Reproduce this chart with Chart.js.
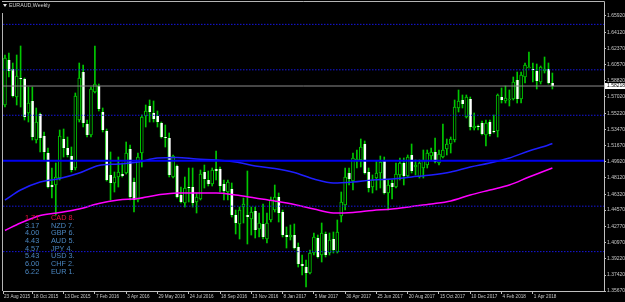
<!DOCTYPE html>
<html>
<head>
<meta charset="utf-8">
<title>EURAUD,Weekly</title>
<script src="https://cdn.jsdelivr.net/npm/chart.js@4.4.1/dist/chart.umd.min.js"></script>
<style>
  html, body { margin: 0; padding: 0; background: #000; }
  canvas { display: block; }
</style>
</head>
<body>
<canvas id="chart" width="625" height="302"></canvas>
<script>
// weekly candles, first one is the week of 30 Aug 2015 (week index 1)
const firstWeek = 1;

const openPrices = [
  1.5613, 1.6108, 1.6009, 1.5701, 1.5910, 1.5899, 1.5525, 1.5657, 1.5228, 1.5514,
  1.5272, 1.5085, 1.4733, 1.4733, 1.4810, 1.5239, 1.5140, 1.5052, 1.4920, 1.5448,
  1.5976, 1.5404, 1.5283, 1.5756, 1.5822, 1.5536, 1.5327, 1.4843, 1.4755, 1.4821,
  1.4854, 1.4865, 1.5129, 1.4766, 1.4568, 1.5085, 1.5492, 1.5602, 1.5525, 1.5492,
  1.5415, 1.5261, 1.5250, 1.4821, 1.4942, 1.4623, 1.4535, 1.4711, 1.4711, 1.4546,
  1.4579, 1.4876, 1.4788, 1.4744, 1.4909, 1.4909, 1.4744, 1.4656, 1.4689, 1.4403,
  1.4304, 1.4491, 1.4403, 1.4359, 1.4447, 1.4249, 1.4304, 1.4139, 1.4348, 1.4458,
  1.4601, 1.4436, 1.4183, 1.4161, 1.4183, 1.4051, 1.3864, 1.3831, 1.3765, 1.3985,
  1.4150, 1.3963, 1.4194, 1.3985, 1.4139, 1.3996, 1.4392, 1.4513, 1.4865, 1.4777,
  1.4997, 1.5008, 1.5184, 1.4876, 1.4711, 1.4810, 1.4865, 1.4997, 1.4645, 1.4755,
  1.4711, 1.4843, 1.4975, 1.4832, 1.5063, 1.4931, 1.4821, 1.4920, 1.4953, 1.5052,
  1.5096, 1.4975, 1.5041, 1.5129, 1.5184, 1.5228, 1.5580, 1.5668, 1.5481, 1.5679,
  1.5360, 1.5382, 1.5415, 1.5283, 1.5426, 1.5327, 1.5327, 1.5701, 1.5657, 1.5668,
  1.5679, 1.5888, 1.5679, 1.5921, 1.6020, 1.6009, 1.5987, 1.5866, 1.5987, 1.6009,
  1.5855
];
const highPrices = [
  1.6163, 1.6185, 1.6075, 1.6163, 1.6262, 1.5910, 1.5811, 1.5811, 1.5580, 1.5525,
  1.5316, 1.5140, 1.4920, 1.4975, 1.5338, 1.5349, 1.5261, 1.5151, 1.5745, 1.6075,
  1.6053, 1.5448, 1.5811, 1.6262, 1.5844, 1.5580, 1.5349, 1.5096, 1.4876, 1.5041,
  1.4975, 1.5206, 1.5173, 1.4810, 1.5085, 1.5503, 1.5613, 1.5668, 1.5657, 1.5547,
  1.5426, 1.5393, 1.5305, 1.5063, 1.4953, 1.4711, 1.4821, 1.4920, 1.4920, 1.4645,
  1.4898, 1.4953, 1.4887, 1.4920, 1.5107, 1.4931, 1.4788, 1.4788, 1.4755, 1.4458,
  1.4491, 1.4590, 1.4887, 1.4491, 1.4491, 1.4425, 1.4524, 1.4425, 1.4601, 1.4733,
  1.4645, 1.4458, 1.4271, 1.4293, 1.4304, 1.4095, 1.3963, 1.3908, 1.4018, 1.4205,
  1.4183, 1.4315, 1.4216, 1.4205, 1.4216, 1.4348, 1.4656, 1.4920, 1.4920, 1.5085,
  1.5118, 1.5239, 1.5217, 1.4920, 1.4843, 1.4997, 1.5052, 1.5041, 1.4788, 1.4788,
  1.4975, 1.5030, 1.5030, 1.5063, 1.5184, 1.5008, 1.5008, 1.5118, 1.5118, 1.5140,
  1.5250, 1.5118, 1.5404, 1.5239, 1.5261, 1.5668, 1.5778, 1.5723, 1.5723, 1.5701,
  1.5525, 1.5393, 1.5437, 1.5448, 1.5448, 1.5503, 1.5734, 1.5800, 1.5822, 1.5778,
  1.5921, 1.5976, 1.5976, 1.6075, 1.6196, 1.6075, 1.6064, 1.6042, 1.6141, 1.6075,
  1.5965
];
const lowPrices = [
  1.5591, 1.5921, 1.5701, 1.5613, 1.5591, 1.5448, 1.5426, 1.5228, 1.5195, 1.5096,
  1.5008, 1.4700, 1.4590, 1.4403, 1.4788, 1.5041, 1.5041, 1.4876, 1.4898, 1.5426,
  1.5371, 1.5261, 1.5261, 1.5745, 1.5547, 1.5316, 1.4777, 1.4568, 1.4656, 1.4711,
  1.4821, 1.4854, 1.4568, 1.4436, 1.4546, 1.4931, 1.5371, 1.5426, 1.5426, 1.5371,
  1.5250, 1.5151, 1.4821, 1.4810, 1.4590, 1.4535, 1.4491, 1.4546, 1.4491, 1.4425,
  1.4568, 1.4700, 1.4722, 1.4722, 1.4788, 1.4656, 1.4568, 1.4568, 1.4381, 1.4194,
  1.4139, 1.4315, 1.4084, 1.4183, 1.4150, 1.4161, 1.4139, 1.4095, 1.4326, 1.4436,
  1.4326, 1.4161, 1.4040, 1.4128, 1.4029, 1.3831, 1.3743, 1.3611, 1.3754, 1.3963,
  1.3930, 1.3886, 1.3941, 1.3963, 1.3985, 1.3985, 1.4326, 1.4458, 1.4733, 1.4678,
  1.4920, 1.4931, 1.4854, 1.4656, 1.4645, 1.4678, 1.4700, 1.4634, 1.4458, 1.4579,
  1.4700, 1.4788, 1.4733, 1.4821, 1.4865, 1.4843, 1.4810, 1.4810, 1.4920, 1.5008,
  1.4975, 1.4953, 1.5030, 1.5063, 1.5085, 1.5206, 1.5536, 1.5580, 1.5470, 1.5338,
  1.5338, 1.5338, 1.5283, 1.5162, 1.5272, 1.5305, 1.5261, 1.5635, 1.5635, 1.5602,
  1.5668, 1.5635, 1.5635, 1.5855, 1.6020, 1.5866, 1.5789, 1.5844, 1.5965, 1.5844,
  1.5789
];
const closePrices = [
  1.6130, 1.5987, 1.5712, 1.5932, 1.5899, 1.5481, 1.5635, 1.5261, 1.5426, 1.5250,
  1.5096, 1.4711, 1.4711, 1.4821, 1.5272, 1.5140, 1.5063, 1.4898, 1.5712, 1.5910,
  1.5415, 1.5283, 1.5789, 1.5844, 1.5569, 1.5338, 1.4788, 1.4755, 1.4821, 1.4876,
  1.4832, 1.5085, 1.4601, 1.4568, 1.5041, 1.5481, 1.5547, 1.5536, 1.5459, 1.5426,
  1.5261, 1.5250, 1.4843, 1.5052, 1.4601, 1.4546, 1.4700, 1.4700, 1.4535, 1.4601,
  1.4854, 1.4799, 1.4744, 1.4898, 1.4887, 1.4722, 1.4667, 1.4766, 1.4403, 1.4315,
  1.4458, 1.4524, 1.4381, 1.4436, 1.4238, 1.4315, 1.4161, 1.4315, 1.4568, 1.4601,
  1.4425, 1.4183, 1.4161, 1.4183, 1.4040, 1.3864, 1.3842, 1.3765, 1.3985, 1.4161,
  1.3941, 1.4205, 1.3963, 1.4128, 1.4018, 1.4216, 1.4546, 1.4821, 1.4799, 1.5030,
  1.5019, 1.5151, 1.4865, 1.4700, 1.4788, 1.4865, 1.4986, 1.4645, 1.4733, 1.4711,
  1.4854, 1.4975, 1.4832, 1.5041, 1.4887, 1.4953, 1.4975, 1.5008, 1.5085, 1.5096,
  1.4986, 1.5074, 1.5118, 1.5184, 1.5239, 1.5591, 1.5657, 1.5624, 1.5701, 1.5371,
  1.5382, 1.5371, 1.5294, 1.5415, 1.5294, 1.5316, 1.5723, 1.5668, 1.5690, 1.5679,
  1.5866, 1.5679, 1.5943, 1.6053, 1.6031, 1.5998, 1.5877, 1.6031, 1.6009, 1.5855,
  1.58218
];

// moving averages every 5 weeks
const maWeeks = [1, 5, 10, 15, 20, 25, 30, 35, 40, 45, 50, 55, 60, 65, 70, 75, 80,
  85, 90, 95, 100, 105, 110, 115, 120, 125, 130, 135, 140, 141];
const blueMa = [1.4568, 1.4678, 1.4766, 1.4805, 1.4865, 1.4948, 1.4964, 1.4986, 1.5030, 1.5036,
  1.5019, 1.5008, 1.4986, 1.4942, 1.4915, 1.4871, 1.4799, 1.4755, 1.4766, 1.4788,
  1.4799, 1.4821, 1.4843, 1.4876, 1.4931, 1.4975, 1.5030, 1.5107, 1.5173, 1.5190];
const magentaMa = [1.4233, 1.4315, 1.4398, 1.4431, 1.4469, 1.4530, 1.4568, 1.4585, 1.4623, 1.4645,
  1.4645, 1.4645, 1.4623, 1.4590, 1.4557, 1.4519, 1.4469, 1.4425, 1.4431, 1.4453,
  1.4469, 1.4497, 1.4524, 1.4557, 1.4623, 1.4678, 1.4733, 1.4821, 1.4904, 1.4920];

// horizontal levels
const dottedLevels = [1.65, 1.60, 1.55, 1.45, 1.40];
const solidLevel = 1.50;

// axis labels
const dateLabels = ['23 Aug 2015', '18 Oct 2015', '13 Dec 2015', '7 Feb 2016', '3 Apr 2016',
  '29 May 2016', '24 Jul 2016', '18 Sep 2016', '13 Nov 2016', '8 Jan 2017', '5 Mar 2017',
  '30 Apr 2017', '25 Jun 2017', '20 Aug 2017', '15 Oct 2017', '10 Dec 2017', '4 Feb 2018', '1 Apr 2018'];
const weeksPerDateLabel = 8;
const priceTicks = [1.65920, 1.64120, 1.62370, 1.60570, 1.58820, 1.57020, 1.55220, 1.53470, 1.51670,
  1.49920, 1.48120, 1.46320, 1.44570, 1.42770, 1.40970, 1.39220, 1.37420, 1.35670];

// currency strength panel
const strengthValues = ['1.71', '3.17', '4.00', '4.43', '4.57', '5.43', '6.00', '6.22'];
const strengthNames = ['CAD 8.', 'NZD 7.', 'GBP 6.', 'AUD 5.', 'JPY 4.', 'USD 3.', 'CHF 2.', 'EUR 1.'];

const X_MIN = 0.5, X_MAX = 154.2;
const Y_MIN = 1.3567, Y_MAX = 1.6735;
const GREEN = '#00c800';
const AXIS = '#c0c0c0';
const FONT = 'Liberation Sans, Arial, sans-serif';

const weeks = openPrices.map((_, k) => firstWeek + k);
const lastClose = closePrices[closePrices.length - 1];

function levelLine(value, color, width, dash, order) {
  return {
    type: 'line',
    data: [{ x: X_MIN, y: value }, { x: X_MAX, y: value }],
    borderColor: color,
    borderWidth: width,
    borderDash: dash,
    pointRadius: 0,
    order: order
  };
}

const datasets = [
  {
    type: 'bar',
    label: 'wicks',
    data: weeks.map((w, k) => ({ x: w, y: [lowPrices[k], highPrices[k]] })),
    backgroundColor: GREEN,
    barThickness: 1,
    grouped: false,
    order: 10
  },
  {
    type: 'bar',
    label: 'bodies',
    data: weeks.map((w, k) => ({ x: w, y: [openPrices[k], closePrices[k]] })),
    backgroundColor: c => closePrices[c.dataIndex] < openPrices[c.dataIndex] ? '#ffffff' : '#000000',
    borderColor: GREEN,
    borderWidth: c => closePrices[c.dataIndex] < openPrices[c.dataIndex] ? { left: 1, right: 0, top: 0, bottom: 0 } : 1,
    borderSkipped: false,
    barThickness: 3,
    minBarLength: 1,
    grouped: false,
    order: 9
  },
  {
    type: 'line',
    label: 'MA blue',
    data: maWeeks.map((w, k) => ({ x: w, y: blueMa[k] })),
    borderColor: '#1e1eff',
    borderWidth: 1.5,
    pointRadius: 0,
    cubicInterpolationMode: 'monotone',
    order: 5
  },
  {
    type: 'line',
    label: 'MA magenta',
    data: maWeeks.map((w, k) => ({ x: w, y: magentaMa[k] })),
    borderColor: '#ff00ff',
    borderWidth: 1.5,
    pointRadius: 0,
    cubicInterpolationMode: 'monotone',
    order: 4
  },
  ...dottedLevels.map(v => levelLine(v, '#1616e0', 1, [1.5, 1.5], 3)),
  levelLine(solidLevel, '#0000f0', 2, [], 2),
  levelLine(lastClose, '#8c8c8c', 1, [], 1)
];

// frame, title, strength panel, price marker
const overlay = {
  id: 'overlay',
  beforeDraw(chart) {
    const ctx = chart.ctx;
    ctx.save();
    ctx.fillStyle = '#000';
    ctx.fillRect(0, 0, chart.width, chart.height);
    ctx.restore();
  },
  afterDraw(chart) {
    const ctx = chart.ctx;
    const a = chart.chartArea;
    ctx.save();

    // frame
    ctx.strokeStyle = '#b4b4b4';
    ctx.lineWidth = 1;
    ctx.beginPath();
    ctx.moveTo(a.left - 0.5, a.bottom);
    ctx.lineTo(a.left - 0.5, 13);
    ctx.moveTo(a.left - 1, 1.5);
    ctx.lineTo(a.right + 0.5, 1.5);
    ctx.lineTo(a.right + 0.5, a.top);
    ctx.stroke();

    // title
    ctx.fillStyle = '#e6e6e6';
    ctx.beginPath();
    ctx.moveTo(3, 4);
    ctx.lineTo(7, 4);
    ctx.lineTo(5, 7);
    ctx.closePath();
    ctx.fill();
    ctx.fillStyle = '#d2d2d2';
    ctx.font = '5.3px ' + FONT;
    ctx.textBaseline = 'middle';
    ctx.fillText('EURAUD,Weekly', 9, 5.5);

    // strength panel
    ctx.font = '7.3px ' + FONT;
    strengthValues.forEach((v, k) => {
      const y = 218 + k * 7.66;
      ctx.fillStyle = k === 0 ? '#e8143c' : '#4a86c0';
      ctx.fillText(v, 25, y);
      ctx.fillText(strengthNames[k], 51, y);
    });

    // last price marker
    const yp = chart.scales.y.getPixelForValue(lastClose);
    ctx.fillStyle = '#ffffff';
    ctx.fillRect(a.right + 1, yp - 3, chart.width - a.right - 1, 6);
    ctx.fillStyle = '#000';
    ctx.font = '5px ' + FONT;
    ctx.fillText(lastClose.toFixed(5), a.right + 3, yp);
    ctx.restore();
  }
};

new Chart(document.getElementById('chart'), {
  type: 'bar',
  data: { datasets: datasets },
  options: {
    responsive: false,
    animation: false,
    events: [],
    layout: { padding: { left: 3, top: 3, right: 0, bottom: 0 } },
    plugins: { legend: { display: false }, tooltip: { enabled: false } },
    scales: {
      x: {
        type: 'linear',
        min: X_MIN,
        max: X_MAX,
        offset: false,
        grid: { offset: false, drawOnChartArea: false, drawTicks: true, tickLength: 3, color: AXIS },
        border: { display: true, color: AXIS },
        ticks: {
          autoSkip: false,
          maxRotation: 0,
          minRotation: 0,
          align: 'start',
          padding: 0,
          labelOffset: 1,
          color: '#c8c8c8',
          font: { family: FONT, size: 4.6 },
          callback: (value, index) => dateLabels[index]
        },
        afterBuildTicks: s => {
          s.ticks = dateLabels.map((d, k) => ({ value: Math.max(X_MIN, k * weeksPerDateLabel) }));
        },
        afterFit: s => {
          s.height = 11;
          s.paddingLeft = 0;
          s.paddingRight = 0;
        }
      },
      y: {
        position: 'right',
        min: Y_MIN,
        max: Y_MAX,
        beginAtZero: false,
        grid: { drawOnChartArea: false, drawTicks: true, tickLength: 2, color: AXIS },
        border: { display: true, color: AXIS },
        ticks: {
          autoSkip: false,
          padding: 1,
          color: '#c8c8c8',
          font: { family: FONT, size: 5 },
          callback: v => Number(v).toFixed(5)
        },
        afterBuildTicks: s => {
          s.ticks = priceTicks.map(v => ({ value: v }));
        },
        afterFit: s => {
          s.width = 21;
          s.paddingTop = 0;
          s.paddingBottom = 0;
        }
      }
    }
  },
  plugins: [overlay]
});
</script>
</body>
</html>
